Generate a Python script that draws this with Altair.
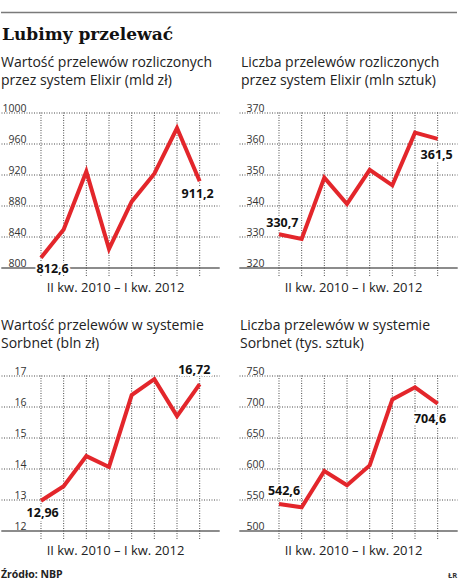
import altair as alt
import pandas as pd

# ---------------- data ----------------
quarters = ["II kw. 2010", "III kw. 2010", "IV kw. 2010", "I kw. 2011",
            "II kw. 2011", "III kw. 2011", "IV kw. 2011", "I kw. 2012"]
period_label = "II kw. 2010 – I kw. 2012"

elixir_value = [812.6, 849.0, 924.0, 824.0, 885.0, 921.0, 980.0, 911.2]
elixir_count = [330.7, 329.2, 349.0, 340.5, 351.5, 346.5, 363.5, 361.5]
sorbnet_value = [12.96, 13.43, 14.4, 14.05, 16.37, 16.88, 15.69, 16.72]
sorbnet_count = [542.6, 537.5, 596.0, 573.0, 605.0, 711.5, 731.0, 704.6]

ticks_ev = [800, 840, 880, 920, 960, 1000]
ticks_ec = [320, 330, 340, 350, 360, 370]
ticks_sv = [12, 13, 14, 15, 16, 17]
ticks_sc = [500, 550, 600, 650, 700, 750]

labels_ev = ["812,6", "911,2"]
labels_ec = ["330,7", "361,5"]
labels_sv = ["12,96", "16,72"]
labels_sc = ["542,6", "704,6"]

sub_ev = "Wartość przelewów rozliczonych\nprzez system Elixir (mld zł)"
sub_ec = "Liczba przelewów rozliczonych\nprzez system Elixir (mln sztuk)"
sub_sv = "Wartość przelewów w systemie\nSorbnet (bln zł)"
sub_sc = "Liczba przelewów w systemie\nSorbnet (tys. sztuk)"

main_title = "Lubimy przelewać"
source_text = "Źródło: NBP"
author_text = "ŁR"

# ---------------- style ----------------
W, H = 218, 155
RED = "#e3262b"
FONT = "Open Sans"
GRID = "#4a4a4a"


def panel(values, ticks, labels, subtitle, off_first, off_last, sub_x, extras=()):
    n = len(values)
    df = pd.DataFrame({
        "idx": list(range(n)),
        "q": quarters,
        "v": values,
        "lab": [labels[0]] + [""] * (n - 2) + [labels[1]],
    })
    base = alt.Chart(df)
    x = alt.X(
        "idx:Q",
        scale=alt.Scale(domain=[-1.764, 7.852], nice=False, zero=False),
        axis=alt.Axis(
            title=period_label, labels=False, ticks=False, grid=False,
            domain=True, domainColor="#8c8c8c", domainWidth=2,
            titleFont=FONT, titleFontSize=13, titleFontWeight="normal",
            titleColor="#222222", titleX=114, titleY=23.5,
            titleAlign="center", titleBaseline="alphabetic",
        ),
    )
    y = alt.Y(
        "v:Q",
        scale=alt.Scale(domain=[ticks[0], ticks[-1]], nice=False, zero=False),
        axis=alt.Axis(
            title=None, values=ticks, format="d", grid=True, gridDash=[1, 1.5],
            gridColor=GRID, gridWidth=1, domain=False, ticks=False,
            labelAlign="right", labelPadding=-25, labelBaseline="alphabetic",
            labelOffset=-1, labelFont=FONT, labelFontSize=10.5,
            labelColor="#333333", labelFlush=False, labelOverlap=False,
            labelBound=False,
        ),
    )
    vrules = base.mark_rule(strokeDash=[1, 1.5], color=GRID, strokeWidth=1).encode(
        x=x, y=alt.value(0), y2=alt.value(H + 10)
    )
    line = base.mark_line(color=RED, strokeWidth=4, strokeJoin="miter").encode(x=x, y=y)

    layers = [vrules, line]
    for sel, (dx, dy) in ((0, off_first), (n - 1, off_last)):
        sub = base.transform_filter(alt.datum.idx == sel)
        halo = sub.mark_text(font=FONT, fontWeight="bold", fontSize=12.5,
                             stroke="white", strokeWidth=4, color="white",
                             dx=dx, dy=dy, align="center", baseline="middle").encode(
            x=x, y=y, text="lab:N")
        txt = sub.mark_text(font=FONT, fontWeight="bold", fontSize=12.5,
                            color="#111111", dx=dx, dy=dy, align="center",
                            baseline="middle").encode(x=x, y=y, text="lab:N")
        layers += [halo, txt]

    subt = alt.Chart(pd.DataFrame({"t": [subtitle]})).mark_text(
        align="left", baseline="alphabetic", lineBreak="\n", lineHeight=18.3,
        font=FONT, fontSize=14, color="#222222"
    ).encode(x=alt.value(sub_x), y=alt.value(-46), text="t:N")
    layers.append(subt)
    layers += list(extras)
    return alt.layer(*layers).properties(width=W, height=H)


title_layer = alt.Chart(pd.DataFrame({"t": [main_title]})).mark_text(
    align="left", baseline="alphabetic", font="DejaVu Serif", fontWeight="bold",
    fontSize=17, color="#111111"
).encode(x=alt.value(1), y=alt.value(-72.3), text="t:N")

top_rule = alt.Chart(pd.DataFrame({"a": [0]})).mark_rule(
    color="#7a7a7a", strokeWidth=1.5
).encode(x=alt.value(0), x2=alt.value(456), y=alt.value(-100))

source_layer = alt.Chart(pd.DataFrame({"t": [source_text]})).mark_text(
    align="left", baseline="alphabetic", font=FONT, fontWeight="bold",
    fontSize=10.5, color="#222222"
).encode(x=alt.value(0), y=alt.value(202.3), text="t:N")

author_layer = alt.Chart(pd.DataFrame({"t": [author_text]})).mark_text(
    align="center", baseline="alphabetic", font=FONT, fontWeight="bold",
    fontSize=7.5, color="#333333"
).encode(x=alt.value(213.7), y=alt.value(202), text="t:N")

tl = panel(elixir_value, ticks_ev, labels_ev, sub_ev, (11.7, 11.5), (-2, 13), 0,
           extras=(title_layer, top_rule))
tr = panel(elixir_count, ticks_ec, labels_ec, sub_ec, (3.4, -11.6), (-1, 16), 2)
bl = panel(sorbnet_value, ticks_sv, labels_sv, sub_sv, (1.7, 12), (-5.4, -14.4), 0,
           extras=(source_layer,))
br = panel(sorbnet_count, ticks_sc, labels_sc, sub_sc, (5, -12.6), (-7.7, 15.5), 1,
           extras=(author_layer,))

chart = alt.concat(
    tl, tr, bl, br, columns=2, spacing={"row": 108, "column": 20}, bounds="flush"
).properties(
    padding={"left": 0, "top": 11.5, "right": 0, "bottom": 0},
    background="white",
).configure_view(stroke=None)

chart.save("out.html", embed_options={"renderer": "svg", "actions": False})
